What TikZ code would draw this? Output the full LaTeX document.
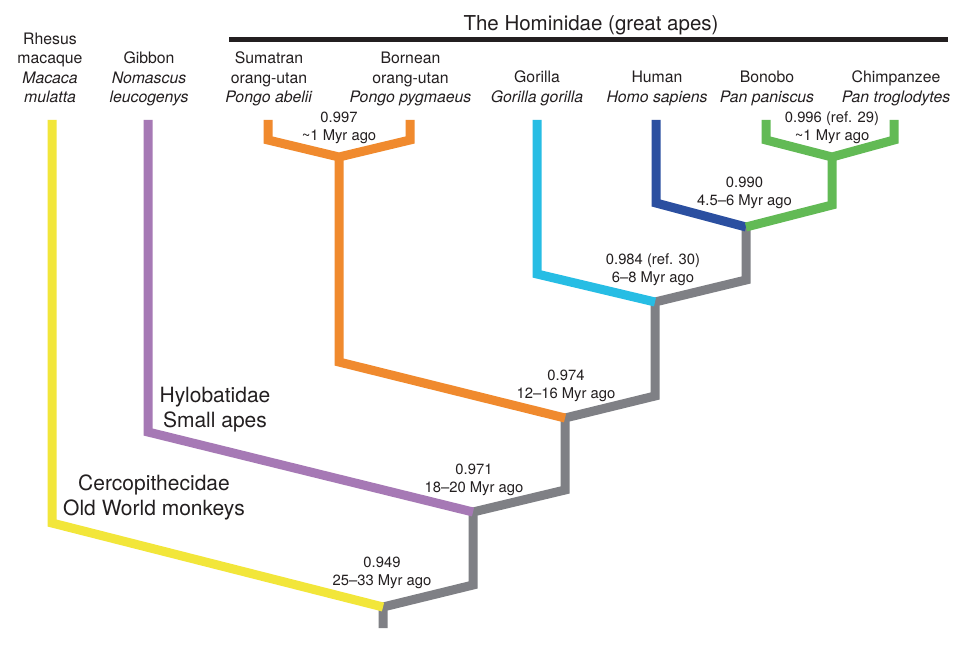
\documentclass[tikz,border=0pt]{standalone}
\usepackage{fontspec}
\setmainfont{TeX Gyre Heros}
\definecolor{cyel}{RGB}{242,230,58}
\definecolor{cpur}{RGB}{166,121,181}
\definecolor{cora}{RGB}{240,138,46}
\definecolor{ccya}{RGB}{39,189,228}
\definecolor{cblu}{RGB}{43,79,160}
\definecolor{cgre}{RGB}{98,186,85}
\definecolor{cgry}{RGB}{127,128,133}
\definecolor{ctxt}{RGB}{35,31,32}
\begin{document}
\begin{tikzpicture}[x=1pt,y=-1pt,
  br/.style={line width=9pt, line join=miter, line cap=butt},
  sp/.style={font=\fontsize{15.8}{19.6}\selectfont, align=center, anchor=base, inner sep=0pt, text=ctxt},
  nl/.style={font=\fontsize{14.8}{18}\selectfont, align=center, anchor=base, inner sep=0pt, text=ctxt},
  big/.style={font=\fontsize{21}{24.5}\selectfont, align=center, anchor=base, inner sep=0pt, text=ctxt},
]
\useasboundingbox (0,0) rectangle (968,647);
\fill[white] (0,0) rectangle (968,647);

% title
\node[font=\fontsize{20.5}{24}\selectfont, anchor=base, inner sep=0pt, text=ctxt] (title) at (591,31) {The Hominidae (great apes)};
\coordinate (rl) at (229,40);
\coordinate (rr) at (948,40);
\draw[line width=5pt, ctxt] (rl) -- (rr);

% species labels (anchor = baseline of last line)
\node[sp] (lmac) at (50,103) {Rhesus\\macaque\\\textit{Macaca}\\\textit{mulatta}};
\node[sp] (lgib) at (149,103) {Gibbon\\\textit{Nomascus}\\\textit{leucogenys}};
\node[sp] (lsum) at (269,103) {Sumatran\\orang-utan\\\textit{Pongo abelii}};
\node[sp] (lbor) at (410.5,103) {Bornean\\orang-utan\\\textit{Pongo pygmaeus}};
\node[sp] (lgor) at (537,102.5) {Gorilla\\\textit{Gorilla gorilla}};
\node[sp] (lhum) at (657,102.5) {Human\\\textit{Homo sapiens}};
\node[sp] (lbon) at (767,102.5) {Bonobo\\\textit{Pan paniscus}};
\node[sp] (lchi) at (896,102.5) {Chimpanzee\\\textit{Pan troglodytes}};

% tree coordinates
\coordinate (mac) at (52,120);
\coordinate (gib) at (148,120);
\coordinate (sum) at (268,120);
\coordinate (bor) at (410,120);
\coordinate (gor) at (537,120);
\coordinate (hum) at (656,120);
\coordinate (bon) at (766,120);
\coordinate (chi) at (894,120);
\coordinate (oj) at (339,157);
\coordinate (gj) at (832,157);
\coordinate (hj) at (746,227);
\coordinate (cj) at (655,302);
\coordinate (oj2) at (565,418);
\coordinate (pj) at (473,512);
\coordinate (yj) at (383,607);
\coordinate (root) at (383,628);

% gray backbone
\draw[br, cgry] (root) -- (yj) -- (473,585) -- (pj) -- (565,490) -- (oj2) -- (655,396) -- (cj) -- (746,280) -- (hj);

% coloured branches
\draw[br, cyel] (mac) -- (52,523) -- (yj);
\draw[br, cpur] (gib) -- (148,432) -- (pj);
\draw[br, cora] (sum) -- (268,140) -- (oj) -- (410,140) -- (bor);
\draw[br, cora] (oj) -- (339,362) -- (oj2);
\draw[br, ccya] (gor) -- (537,274) -- (cj);
\draw[br, cblu] (hum) -- (656,203) -- (hj);
\draw[br, cgre] (bon) -- (766,140) -- (gj) -- (894,140) -- (chi);
\draw[br, cgre] (gj) -- (832,205) -- (hj);

% node labels (anchor = baseline of last line)
\node[nl] (n997) at (339,141) {0.997\\\textasciitilde1 Myr ago};
\node[nl] (n996) at (832,141) {0.996 (ref. 29)\\\textasciitilde1 Myr ago};
\node[nl] (n990) at (744.5,205) {0.990\\4.5–6 Myr ago};
\node[nl] (n984) at (653,282) {0.984 (ref. 30)\\6–8 Myr ago};
\node[nl] (n974) at (566,398) {0.974\\12–16 Myr ago};
\node[nl] (n971) at (474,492) {0.971\\18–20 Myr ago};
\node[nl] (n949) at (382,585) {0.949\\25–33 Myr ago};

% group labels
\node[big] (hyl) at (215,427) {Hylobatidae\\Small apes};
\node[big] (cer) at (154,515) {Cercopithecidae\\Old World monkeys};
\end{tikzpicture}
\end{document}
